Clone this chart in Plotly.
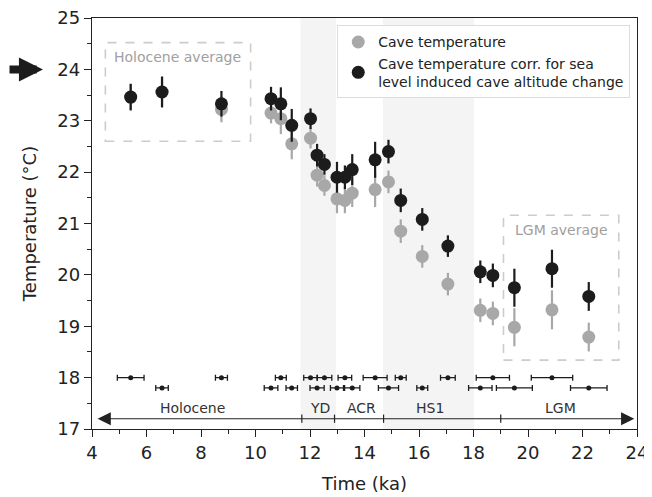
import plotly.graph_objects as go

# ---- data ----
age_ka = [5.42, 6.57, 8.75, 10.57, 10.93, 11.33, 12.02, 12.26, 12.53, 12.99, 13.28, 13.55,
          14.39, 14.88, 15.33, 16.12, 17.06, 18.25, 18.71, 19.5, 20.88, 22.23]
age_err = [0.49, 0.23, 0.22, 0.25, 0.2, 0.21, 0.25, 0.26, 0.27, 0.24, 0.25, 0.28,
           0.44, 0.37, 0.2, 0.2, 0.27, 0.43, 0.61, 0.66, 0.76, 0.67]
cave_temp = [23.46, 23.56, 23.22, 23.15, 23.04, 22.55, 22.66, 21.94, 21.74, 21.48, 21.45, 21.59,
             21.66, 21.81, 20.85, 20.36, 19.82, 19.31, 19.25, 18.98, 19.32, 18.79]
cave_err = [0.25, 0.3, 0.25, 0.2, 0.3, 0.3, 0.2, 0.22, 0.2, 0.28, 0.25, 0.27,
            0.34, 0.22, 0.23, 0.22, 0.22, 0.23, 0.23, 0.37, 0.38, 0.28]
corr_temp = [23.46, 23.56, 23.33, 23.43, 23.33, 22.91, 23.04, 22.33, 22.15, 21.9, 21.9, 22.05,
             22.24, 22.4, 21.45, 21.08, 20.56, 20.06, 19.99, 19.75, 20.12, 19.58]
corr_err = [0.26, 0.3, 0.25, 0.23, 0.32, 0.32, 0.2, 0.22, 0.2, 0.3, 0.23, 0.3,
            0.35, 0.23, 0.23, 0.22, 0.21, 0.22, 0.23, 0.37, 0.37, 0.28]

periods = ["Holocene", "YD", "ACR", "HS1", "LGM"]
period_bounds = [4.15, 11.7, 12.9, 14.7, 19.0, 23.9]
period_label_x = [7.7, 12.35, 13.9, 16.4, 21.2]
shaded_bands = [(11.65, 12.95), (14.68, 18.02)]

FONT = "DejaVu Sans"
BLACK = "#1c1c1c"
GRAY = "#a8a8a8"

fig = go.Figure()

# shaded bands
for x0, x1 in shaded_bands:
    fig.add_shape(type="rect", xref="x", yref="paper", x0=x0, x1=x1, y0=0, y1=1,
                  fillcolor="#f4f4f4", line=dict(width=0), layer="below")

# average boxes
fig.add_shape(type="rect", x0=4.49, x1=9.82, y0=22.6, y1=24.52,
              line=dict(color="#cccccc", width=1.6, dash="dash"))
fig.add_shape(type="rect", x0=19.1, x1=23.33, y0=18.34, y1=21.16,
              line=dict(color="#cccccc", width=1.6, dash="dash"))
fig.add_annotation(x=7.15, y=24.25, text="Holocene average", showarrow=False,
                   font=dict(family=FONT, size=14, color="#a0a0a0"))
fig.add_annotation(x=21.22, y=20.87, text="LGM average", showarrow=False,
                   font=dict(family=FONT, size=14, color="#a0a0a0"))

# cave temperature
fig.add_trace(go.Scatter(
    x=age_ka, y=cave_temp, mode="markers", name="Cave temperature",
    marker=dict(color=GRAY, size=13),
    error_y=dict(type="data", array=cave_err, color=GRAY, thickness=2.2, width=0),
))
# corrected temperature
fig.add_trace(go.Scatter(
    x=age_ka, y=corr_temp, mode="markers",
    name="Cave temperature corr. for sea<br>level induced cave altitude change",
    marker=dict(color=BLACK, size=13),
    error_y=dict(type="data", array=corr_err, color=BLACK, thickness=2.2, width=0),
))
# age uncertainty bars (alternating rows)
row_y = [18.0 if i % 2 == 0 else 17.8 for i in range(len(age_ka))]
fig.add_trace(go.Scatter(
    x=age_ka, y=row_y, mode="markers", showlegend=False,
    marker=dict(color=BLACK, size=5),
    error_x=dict(type="data", array=age_err, color=BLACK, thickness=1.3, width=3),
))

# period arrow
fig.add_annotation(x=period_bounds[-1], y=17.2, ax=period_bounds[0], ay=17.2,
                   xref="x", yref="y", axref="x", ayref="y", text="",
                   showarrow=True, arrowhead=2, arrowside="end+start",
                   arrowsize=2.2, arrowwidth=1.2, arrowcolor="#222222")
for b in period_bounds[1:-1]:
    fig.add_shape(type="line", x0=b, x1=b, y0=17.12, y1=17.28,
                  line=dict(color="#222222", width=1.2))
for name, lx in zip(periods, period_label_x):
    fig.add_annotation(x=lx, y=17.4, text=name, showarrow=False,
                       font=dict(family=FONT, size=14, color="#333333"))

# left arrow at 24
fig.add_annotation(x=-0.09, y=24, xref="paper", yref="y", text="",
                   showarrow=True, ax=-46, ay=0, axref="pixel", ayref="pixel",
                   arrowhead=2, arrowsize=0.6, arrowwidth=8, arrowcolor="#1c1c1c")

axis_common = dict(showline=True, linecolor="#222222", linewidth=1.4, mirror=True,
                   ticks="outside", ticklen=7, tickwidth=1.4, tickcolor="#222222",
                   showgrid=False, zeroline=False, automargin=False,
                   ticklabeloverflow="allow",
                   tickfont=dict(family=FONT, size=18, color="#222222"))

fig.update_xaxes(range=[4, 24], dtick=2, tick0=4,
                 minor=dict(dtick=1, ticks="outside", ticklen=4, tickwidth=1.2, tickcolor="#222222"),
                 title=dict(text="Time (ka)", font=dict(family=FONT, size=18, color="#222222")),
                 **axis_common)
fig.update_yaxes(range=[17, 25], dtick=1, tick0=17,
                 minor=dict(dtick=0.5, ticks="outside", ticklen=4, tickwidth=1.2, tickcolor="#222222"),
                 title=dict(text="Temperature (°C)", font=dict(family=FONT, size=18, color="#222222")),
                 **axis_common)

# page body adds an 8px offset, so the figure is sized to fit the window
fig.update_layout(
    width=644, height=489,
    margin=dict(l=84, r=15, t=10, b=68),
    plot_bgcolor="white", paper_bgcolor="white",
    font=dict(family=FONT, color="#222222"),
    legend=dict(x=0.45, y=0.982, xanchor="left", yanchor="top",
                bgcolor="rgba(255,255,255,0.85)", bordercolor="#dddddd", borderwidth=1,
                font=dict(family=FONT, size=14, color="#222222"), tracegroupgap=4),
)

fig.write_html("out.html")
